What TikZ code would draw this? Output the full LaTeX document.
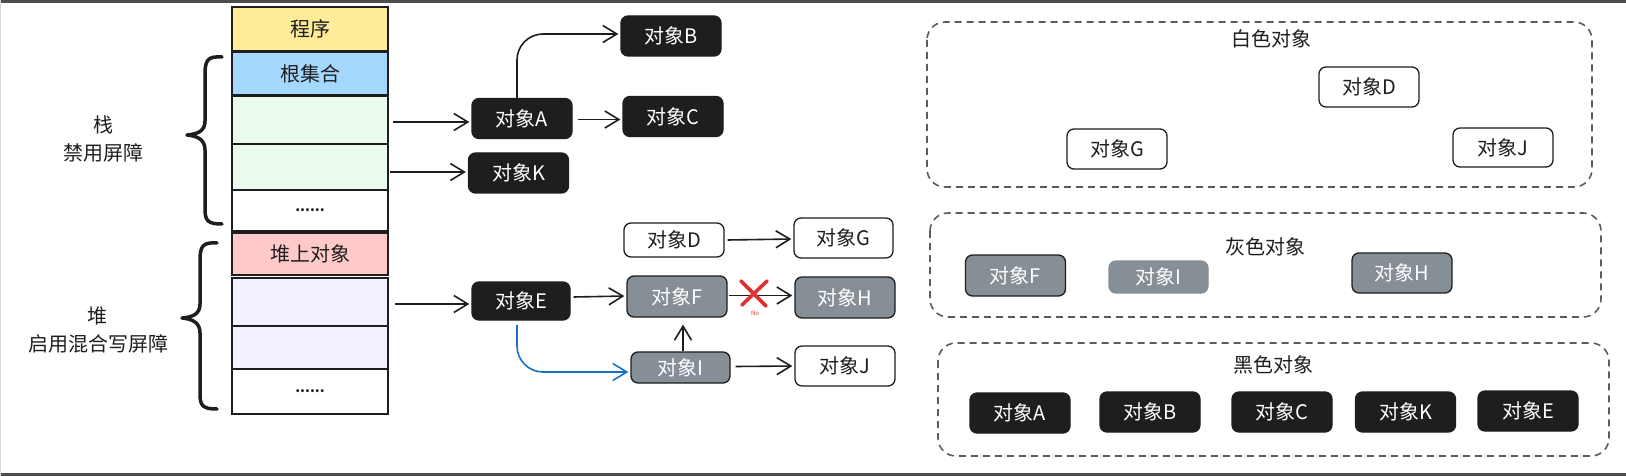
\documentclass[tikz,border=0pt]{standalone}
\usepackage{fontspec}
\setmainfont{Noto Sans CJK SC}
\usetikzlibrary{arrows.meta,calc}
\definecolor{ink}{HTML}{1E1E1E}
\definecolor{grayfill}{HTML}{868E96}
\definecolor{cyellow}{HTML}{FFEC99}
\definecolor{cblue}{HTML}{A5D8FF}
\definecolor{cgreen}{HTML}{EBFBEE}
\definecolor{cpink}{HTML}{FFC9C9}
\definecolor{clav}{HTML}{F3F0FF}
\definecolor{cbluearrow}{HTML}{1971C2}
\definecolor{cred}{HTML}{E03131}
\definecolor{dashgray}{HTML}{5C5C5C}
\newcommand{\fsz}{\fontsize{20}{23}\selectfont}
\tikzset{
  obj/.style={rounded corners=7pt, draw=ink, line width=1.3pt, minimum width=100pt, minimum height=40pt, inner sep=0pt, font=\fsz},
  blackobj/.style={obj, fill=ink, text=white},
  grayobj/.style={obj, fill=grayfill, text=white},
  whiteobj/.style={obj, fill=white, text=ink},
  row/.style={draw=ink, line width=1.4pt, minimum width=156pt, inner sep=0pt, font=\fsz, text=ink},
  arr/.style={draw=ink, line width=1.6pt, -{Straight Barb[length=14pt,width=17pt,line width=1.6pt]}, shorten >=2pt},
  panel/.style={draw=dashgray, line width=1.6pt, dash pattern=on 7pt off 5pt, rounded corners=18pt},
  brace/.style={draw=ink, line width=3.5pt, line cap=round, line join=round},
  lbl/.style={font=\fsz, text=ink, inner sep=0pt},
}
\begin{document}
\begin{tikzpicture}[x=1pt,y=-1pt]
\useasboundingbox (0,0) rectangle (1626,476);
\fill[white] (0,0) rectangle (1626,476);
% frame
\draw[line width=2.6pt, color=black!70] (0,1.3) -- (1626,1.3);
\draw[line width=2.6pt, color=black!70] (0,474.7) -- (1626,474.7);
\draw[line width=1.2pt, color=black!15] (0.6,0) -- (0.6,476);

% stack column
\node[row, fill=cyellow, minimum height=44pt] (prog) at (310,29) {程序};
\node[row, fill=cblue, minimum height=43pt] (root) at (310,73.5) {根集合};
\node[row, fill=cgreen, minimum height=48pt] (g1) at (310,120) {};
\node[row, fill=cgreen, minimum height=46pt] (g2) at (310,167) {};
\node[row, fill=white, minimum height=41pt, font=\bfseries\fontsize{14}{16}\selectfont] (dots1) at (310,210.5) {......};
\node[row, fill=cpink, minimum height=42pt] (pile) at (310,254) {堆上对象};
\node[row, fill=clav, minimum height=48pt] (l1) at (310,302) {};
\node[row, fill=clav, minimum height=43pt] (l2) at (310,347.5) {};
\node[row, fill=white, minimum height=45pt, font=\bfseries\fontsize{14}{16}\selectfont] (dots2) at (310,391.5) {......};

% braces
\draw[brace] (222,57) .. controls (208,56) and (205,60) .. (205,74) -- (205,121)
  .. controls (205,131) and (198,134) .. (187,135)
  .. controls (198,136) and (205,140) .. (205,150) -- (205,209)
  .. controls (205,221) and (208,224) .. (222,224);
\draw[brace] (217,243) .. controls (203,242) and (200,246) .. (200,260) -- (200,304)
  .. controls (200,314) and (193,317) .. (182,318)
  .. controls (193,319) and (200,323) .. (200,333) -- (200,394)
  .. controls (200,406) and (203,409) .. (217,409);

% side labels
\node[lbl] (lstack1) at (103,125) {栈};
\node[lbl] (lstack2) at (103,153) {禁用屏障};
\node[lbl] (lheap1) at (97,316) {堆};
\node[lbl] (lheap2) at (98,344) {启用混合写屏障};

% object graph
\node[blackobj] (A) at (522,118.5) {对象A};
\node[blackobj] (B) at (671,36) {对象B};
\node[blackobj] (C) at (673,116.5) {对象C};
\node[blackobj] (K) at (518.5,173) {对象K};
\node[whiteobj, minimum height=34pt] (D) at (674,240) {对象D};
\node[whiteobj, minimum width=99pt] (G) at (843.5,238) {对象G};
\node[blackobj, minimum width=98pt, minimum height=38pt] (E) at (521,301) {对象E};
\node[grayobj, minimum height=41pt] (F) at (677,296.5) {对象F};
\node[grayobj, minimum height=41pt] (H) at (845,297.5) {对象H};
\node[grayobj, minimum width=99pt, minimum height=31pt] (I) at (680.5,367.5) {对象I};
\node[whiteobj, minimum height=40pt] (J) at (845,366) {对象J};

\coordinate (s1) at (393,122);
\coordinate (s2) at (390,172);
\coordinate (s3) at (395,304);
\draw[arr] (s1) -- (A.west |- s1);
\draw[arr] (s2) -- (K.west |- s2);
\draw[arr] (s3) -- (E.west |- s3);
\draw[arr, rounded corners=26pt] (A.north -| 517,0) |- (B.west |- 0,34);
\draw[arr] ($(A.east)+(5,1)$) -- (C.west |- 0,119.5);
\draw[arr] ($(E.east)+(3,-4)$) -- (F.west |- 0,296);
\draw[arr] ($(F.east)+(1,-1)$) -- (H.west |- 0,295.5);
\draw[arr, shorten >=7pt] (I.north -| 683,0) -- (F.south -| 683,0);
\draw[arr, draw=cbluearrow, rounded corners=26pt] (517,325) |- (I.west |- 0,372);
\draw[arr] ($(I.east)+(5,-1)$) -- (J.west |- 0,366);
\draw[arr] ($(D.east)+(3,0)$) -- (G.west |- 0,239);

% red cross
\draw[cred, line width=3.6pt, line cap=round] (741,281) -- (766,306);
\draw[cred, line width=3.6pt, line cap=round] (767,281) -- (742,305);
\node[text=cred, font=\fontsize{6}{7}\selectfont, inner sep=0pt] (no) at (755,313) {No};

% panels
\draw[panel] (927,22) rectangle (1592,187);
\node[lbl] (twhite) at (1271,39) {白色对象};
\node[whiteobj] (wD) at (1369,87) {对象D};
\node[whiteobj] (wG) at (1117,149) {对象G};
\node[whiteobj, minimum height=39pt] (wJ) at (1503,147.5) {对象J};

\draw[panel] (930,213) rectangle (1601,317);
\node[lbl] (tgray) at (1265,247) {灰色对象};
\node[grayobj, minimum height=41pt] (gF) at (1015.5,275.5) {对象F};
\node[grayobj, minimum width=99pt, minimum height=32pt, draw=grayfill] (gI) at (1158.5,277) {对象I};
\node[grayobj] (gH) at (1402,273) {对象H};

\draw[panel] (938,343) rectangle (1609,456);
\node[lbl] (tblack) at (1273,365) {黑色对象};
\node[blackobj] (bA) at (1020,413) {对象A};
\node[blackobj] (bB) at (1150,412) {对象B};
\node[blackobj] (bC) at (1282,412) {对象C};
\node[blackobj] (bK) at (1405.5,412) {对象K};
\node[blackobj] (bE) at (1528,411) {对象E};
\end{tikzpicture}
\end{document}
